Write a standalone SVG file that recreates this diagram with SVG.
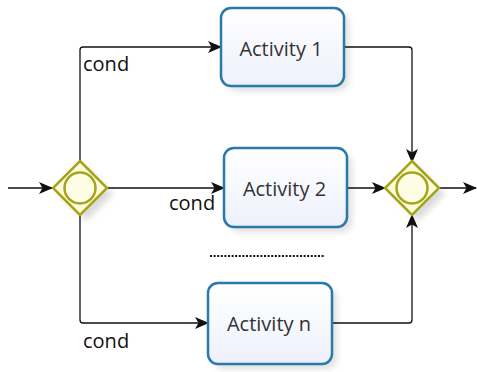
<svg xmlns="http://www.w3.org/2000/svg" width="477" height="372" viewBox="0 0 477 372">
  <style>
    .task rect.body { fill: url(#taskFill); stroke: #2a7aa8; stroke-width: 2.5; }
    .task rect.shadow { fill: #000; opacity: 0.12; filter: url(#soft); }
    .task text { font-family: "Open Sans", "DejaVu Sans", sans-serif; font-size: 20px; fill: #333; text-anchor: middle; }
    .gw polygon.body { fill: #fbfbdc; stroke: #a5a51c; stroke-width: 2.5; stroke-linejoin: miter; }
    .gw polygon.shadow { fill: #000; opacity: 0.14; filter: url(#soft); }
    .gw circle { fill: #fdfde6; stroke: #a5a51c; stroke-width: 2.5; }
    .flow path { fill: none; stroke: #111; stroke-width: 1.3; marker-end: url(#arrow); }
    .label { font-family: "Open Sans", "DejaVu Sans", sans-serif; font-size: 20px; fill: #111; }
    .dots { stroke: #111; stroke-width: 2; stroke-dasharray: 2 1.6; fill: none; }
  </style>
  <defs>
    <linearGradient id="taskFill" x1="0" y1="0" x2="0" y2="1">
      <stop offset="0" stop-color="#ffffff"/>
      <stop offset="1" stop-color="#eef1fc"/>
    </linearGradient>
    <filter id="soft" x="-20%" y="-20%" width="140%" height="140%">
      <feGaussianBlur stdDeviation="3"/>
    </filter>
    <marker id="arrow" viewBox="0 0 14 12" refX="13" refY="6" markerWidth="14" markerHeight="12" markerUnits="userSpaceOnUse" orient="auto">
      <path d="M0,0 L14,6 L0,12 L3.5,6 Z" fill="#111"/>
    </marker>
  </defs>

  <!-- sequence flows -->
  <g id="connectors" class="flow">
    <path d="M8,188 L52,188"/>
    <path d="M80,162 L80,50 Q80,47 83,47 L221,47"/>
    <path d="M107,188 L224,188"/>
    <path d="M80,215 L80,320 Q80,323 83,323 L208,323"/>
    <path d="M344,47 L409,47 Q412,47 412,50 L412,162"/>
    <path d="M347,188 L385,188"/>
    <path d="M332,323 L409,323 Q412,323 412,320 L412,215"/>
    <path d="M439,188 L476,188"/>
  </g>

  <text class="label" x="83" y="71">cond</text>
  <text class="label" x="169" y="210">cond</text>
  <text class="label" x="83" y="348">cond</text>

  <!-- split gateway -->
  <g id="gatewaySplit" class="gw">
    <polygon class="shadow" points="86,167 113,194 86,221 59,194"/>
    <polygon class="body" points="80,161 107,188 80,215 53,188"/>
    <circle cx="80" cy="188" r="15.5"/>
  </g>

  <!-- join gateway -->
  <g id="gatewayJoin" class="gw">
    <polygon class="shadow" points="418,167 445,194 418,221 391,194"/>
    <polygon class="body" points="412,161 439,188 412,215 385,188"/>
    <circle cx="412" cy="188" r="15.5"/>
  </g>

  <g id="activity1" class="task">
    <rect class="shadow" x="226" y="13" width="123" height="78" rx="10"/>
    <rect class="body" x="221" y="8" width="123" height="78" rx="10"/>
    <text x="281" y="56">Activity 1</text>
  </g>

  <g id="activity2" class="task">
    <rect class="shadow" x="229" y="153" width="123" height="79" rx="10"/>
    <rect class="body" x="224" y="148" width="123" height="79" rx="10"/>
    <text x="284.5" y="196">Activity 2</text>
  </g>

  <g id="activityN" class="task">
    <rect class="shadow" x="213" y="288" width="124" height="81" rx="10"/>
    <rect class="body" x="208" y="283" width="124" height="81" rx="10"/>
    <text x="269" y="331">Activity n</text>
  </g>

  <path class="dots" d="M210,256 L325,256"/>
</svg>
